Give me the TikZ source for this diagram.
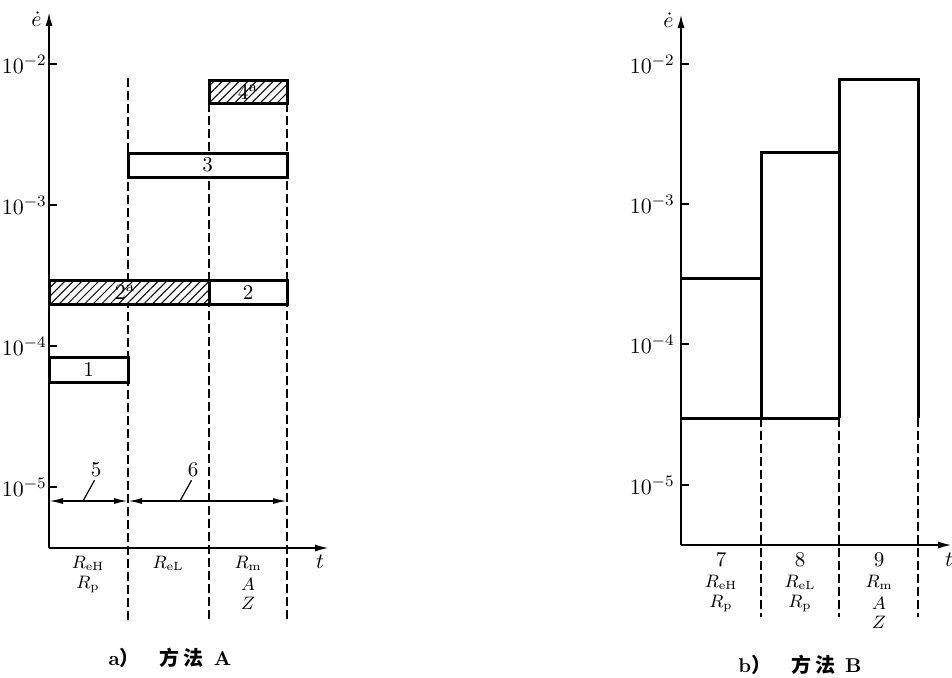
\documentclass[tikz,border=0pt]{standalone}
\usepackage{fontspec}
\newfontfamily\cjk{Noto Sans CJK SC}
\usetikzlibrary{arrows.meta}
\usetikzlibrary{patterns.meta}
\tikzset{
  axis/.style={line width=1pt,-{Latex[length=7pt,width=3.5pt]}},
  tickmark/.style={line width=0.9pt},
  rangebox/.style={line width=1.5pt,fill=white},
  hatchbox/.style={line width=1.5pt,preaction={fill=white},
    pattern={Lines[angle=45,distance=3pt,line width=0.5pt]}},
  stairline/.style={line width=1.5pt,line join=miter},
  guide/.style={line width=0.8pt,dash pattern=on 4.5pt off 2pt},
  span/.style={line width=0.8pt,{Latex[length=7pt,width=3pt]}-{Latex[length=7pt,width=3pt]}},
  leader/.style={line width=0.6pt},
  num/.style={font=\fontsize{10.5}{12}\selectfont,inner sep=0pt},
  ticklabel/.style={font=\fontsize{11}{12}\selectfont,inner sep=0pt,anchor=east},
  prop/.style={font=\fontsize{9}{10}\selectfont,inner sep=0pt},
  caption/.style={font=\fontsize{10}{11}\selectfont\bfseries,inner sep=0pt},
}

\begin{document}
\begin{tikzpicture}[x=0.5pt,y=-0.5pt]
  \useasboundingbox (0,0) rectangle (952,677);

  % a) method A
  \begin{scope}
    \draw[guide] (128,78) -- (128,622);
    \draw[guide] (209,103) -- (209,622);
    \draw[guide] (287,103) -- (287,622);

    \draw[hatchbox] (209,80) rectangle (287,103);
    \node[num] (n4) at (248,92) {$4^{\mathrm{a}}$};
    \draw[rangebox] (128,153) rectangle node[num] (n3) {3} (287,177);
    \draw[hatchbox] (49,280) rectangle (209,304);
    \node[num] (n2a) at (125,292) {$2^{\mathrm{a}}$};
    \draw[rangebox] (209,280) rectangle node[num] (n2) {2} (287,304);
    \draw[rangebox] (49,357) rectangle node[num] (n1) {1} (128,382);

    \draw[axis] (49,548) -- (49,12);
    \draw[axis] (49,548) -- (329,548);
    \node[num,anchor=east] (eA) at (42,19) {$\dot{e}$};
    \node[num] (tA) at (320,562) {$t$};
    \foreach \y/\e in {64/2,205/3,346/4,487/5} {
      \draw[tickmark] (49,\y) -- (57,\y);
      \node[ticklabel] (tickA\e) at (47,\y) {$10^{-\e}$};
    }

    \coordinate (s0) at (49,501);
    \coordinate (s1) at (128,501);
    \coordinate (s2) at (287,501);
    \draw[span] (s0) -- (s1);
    \draw[span] (s1) -- (s2);
    \node[num] (n5) at (96,470) {5};
    \node[num] (n6) at (193,470) {6};
    \draw[leader,shorten <=1.5pt] (n5.south) -- (83,501);
    \draw[leader,shorten <=1.5pt] (n6.south) -- (180,501);

    \node[prop] (rehA) at (88,563) {$R_{\mathrm{eH}}$};
    \node[prop] (rpA) at (88,584) {$R_{\mathrm{p}}$};
    \node[prop] (relA) at (168,563) {$R_{\mathrm{eL}}$};
    \node[prop] (rmA) at (248,563) {$R_{\mathrm{m}}$};
    \node[prop] (aA) at (248,584) {$A$};
    \node[prop] (zA) at (248,603) {$Z$};

    \node[caption] (capA) at (170,658)
      {a{\cjk\bfseries ）\hspace{1em}方\hspace{.2em}法}\hspace{.5em}A};
  \end{scope}

  % b) method B
  \begin{scope}
    \draw[guide] (761,418) -- (761,617);
    \draw[guide] (839,418) -- (839,617);
    \draw[guide] (918,418) -- (918,617);

    \draw[stairline] (681,278) -- (761,278);
    \draw[stairline] (761,418) -- (761,152) -- (839,152);
    \draw[stairline] (839,418) -- (839,79) -- (918,79) -- (918,418);
    \draw[stairline] (681,418) -- (839,418);

    \draw[axis] (681,545) -- (681,14);
    \draw[axis] (681,545) -- (952,545);
    \node[num,anchor=east] (eB) at (674,20) {$\dot{e}$};
    \node[num] (tB) at (949,560) {$t$};
    \foreach \y/\e in {64/2,204/3,344/4,485/5} {
      \draw[tickmark] (681,\y) -- (689,\y);
      \node[ticklabel] (tickB\e) at (675,\y) {$10^{-\e}$};
    }

    \node[num] (n7) at (721,560) {7};
    \node[prop] (rehB) at (721,582) {$R_{\mathrm{eH}}$};
    \node[prop] (rpB) at (721,603) {$R_{\mathrm{p}}$};
    \node[num] (n8) at (800,560) {8};
    \node[prop] (relB) at (800,582) {$R_{\mathrm{eL}}$};
    \node[prop] (rpB2) at (800,603) {$R_{\mathrm{p}}$};
    \node[num] (n9) at (879,560) {9};
    \node[prop] (rmB) at (879,582) {$R_{\mathrm{m}}$};
    \node[prop] (aB) at (879,603) {$A$};
    \node[prop] (zB) at (879,622) {$Z$};

    \node[caption] (capB) at (800,665)
      {b{\cjk\bfseries ）\hspace{1em}方\hspace{.2em}法}\hspace{.5em}B};
  \end{scope}
\end{tikzpicture}
\end{document}
